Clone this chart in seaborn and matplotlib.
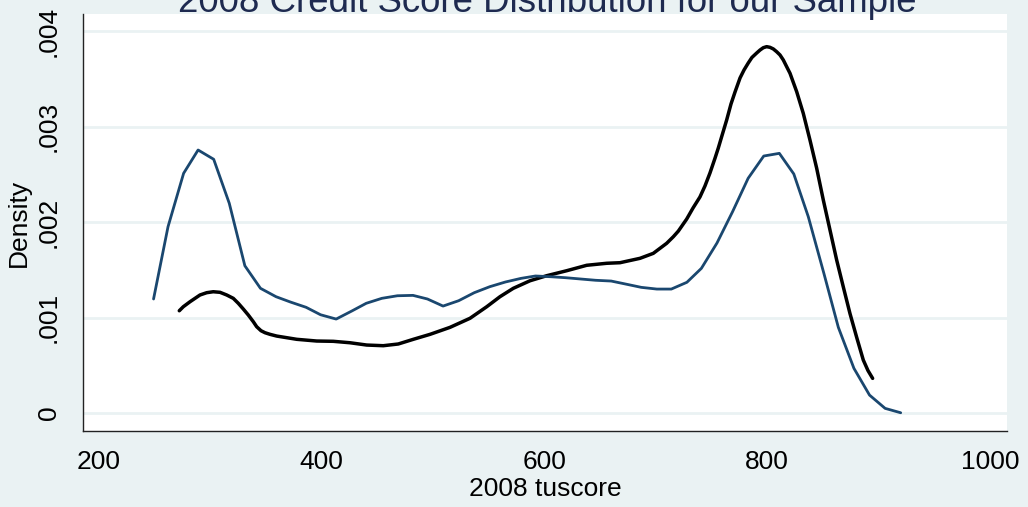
import matplotlib
matplotlib.use("Agg")
import matplotlib.pyplot as plt
import seaborn as sns
import pandas as pd

# Sample: density traced on a coarse 50-point grid
sample_score = [249, 262, 276, 289, 303, 317, 331, 345, 359, 372,
                386, 399, 413, 427, 440, 454, 468, 482, 495, 509,
                523, 537, 551, 565, 579, 592, 606, 619, 633, 646,
                660, 674, 687, 701, 714, 728, 741, 755, 769, 783,
                797, 811, 824, 837, 851, 864, 878, 892, 906, 920]
sample_density = [0.001194, 0.001951, 0.002510, 0.002754, 0.002657, 0.002196, 0.001542, 0.001306, 0.001218, 0.001162,
                  0.001107, 0.001029, 0.000984, 0.001068, 0.001149, 0.001201, 0.001228, 0.001232, 0.001194, 0.001120,
                  0.001176, 0.001260, 0.001323, 0.001372, 0.001410, 0.001435, 0.001427, 0.001417, 0.001403, 0.001390,
                  0.001382, 0.001348, 0.001316, 0.001298, 0.001298, 0.001369, 0.001515, 0.001780, 0.002108, 0.002458,
                  0.002691, 0.002719, 0.002503, 0.002056, 0.001463, 0.000897, 0.000468, 0.000188, 0.000049, 0.000003]

# Reference population: smooth kernel density
pop_score = [272.1, 275.7, 281.7, 290.7, 296.7, 302.6, 308.7, 314.7, 320.6, 325.1,
             329.6, 334.1, 338.6, 341.6, 345.5, 349.1, 353.6, 359.6, 368.6, 377.6,
             395.5, 410.4, 425.4, 440.4, 455.3, 468.8, 482.3, 497.3, 515.2, 533.2,
             548.2, 560.1, 572.1, 587.1, 602.1, 620.0, 638.0, 656.0, 667.9, 685.9,
             697.8, 709.8, 715.8, 720.3, 727.8, 733.5, 739.7, 744.2, 748.7, 753.2,
             756.2, 759.2, 763.7, 767.6, 771.2, 775.7, 779.3, 783.1, 786.4, 790.7,
             793.7, 796.6, 799.6, 802.6, 805.6, 808.6, 811.6, 814.6, 817.6, 820.6,
             826.6, 832.5, 838.5, 844.5, 850.5, 856.5, 862.5, 868.4, 874.4, 880.5,
             886.4, 890.6, 894.8]
pop_density = [0.001071, 0.001113, 0.001165, 0.001236, 0.001260, 0.001270, 0.001264, 0.001236, 0.001201, 0.001149,
               0.001089, 0.001026, 0.000956, 0.000904, 0.000862, 0.000841, 0.000824, 0.000806, 0.000789, 0.000772,
               0.000754, 0.000751, 0.000736, 0.000712, 0.000705, 0.000723, 0.000772, 0.000824, 0.000897, 0.000992,
               0.001113, 0.001218, 0.001306, 0.001385, 0.001438, 0.001490, 0.001547, 0.001568, 0.001574, 0.001620,
               0.001672, 0.001777, 0.001846, 0.001905, 0.002031, 0.002147, 0.002262, 0.002377, 0.002513, 0.002667,
               0.002775, 0.002893, 0.003068, 0.003236, 0.003361, 0.003508, 0.003592, 0.003665, 0.003723, 0.003770,
               0.003801, 0.003825, 0.003836, 0.003829, 0.003812, 0.003783, 0.003749, 0.003696, 0.003626, 0.003557,
               0.003364, 0.003138, 0.002859, 0.002565, 0.002230, 0.001916, 0.001602, 0.001323, 0.001044, 0.000791,
               0.000555, 0.000445, 0.000363]

x_ticks = [200, 400, 600, 800, 1000]
y_ticks = [0, 0.001, 0.002, 0.003, 0.004]
y_tick_labels = ["0", ".001", ".002", ".003", ".004"]

BG = "#eaf2f3"
NAVY = "#1a476f"

sns.set_theme(style="white")
plt.rcParams["font.family"] = ["Liberation Sans", "DejaVu Sans"]

fig = plt.figure(figsize=(10.28, 5.07), dpi=100, facecolor=BG)
ax = fig.add_axes([0.0807, 0.1499, 0.8988, 0.8225])
ax.set_facecolor("white")

sample_df = pd.DataFrame({"score": sample_score, "density": sample_density})
pop_df = pd.DataFrame({"score": pop_score, "density": pop_density})

sns.lineplot(data=pop_df, x="score", y="density", color="black", linewidth=2.5,
             estimator=None, ax=ax, zorder=3, solid_joinstyle="round", solid_capstyle="round")
sns.lineplot(data=sample_df, x="score", y="density", color=NAVY, linewidth=2.0,
             estimator=None, ax=ax, zorder=4, solid_joinstyle="round")

ax.set_xlim(185.6, 1015.4)
ax.set_ylim(-0.000188, 0.004178)

ax.set_yticks(y_ticks)
ax.set_yticklabels(y_tick_labels, rotation=90, va="center")
ax.set_xticks(x_ticks)
ax.set_xticklabels([str(v) for v in x_ticks])

ax.grid(axis="y", color=BG, linewidth=2.0, zorder=0)
ax.grid(axis="x", visible=False)

for side in ("top", "right"):
    ax.spines[side].set_visible(False)
for side in ("left", "bottom"):
    ax.spines[side].set_color("#222222")
    ax.spines[side].set_linewidth(1.0)

ax.tick_params(axis="both", which="major", direction="out", length=8, width=1.0,
               color="#222222", labelsize=19, labelcolor="black")
ax.tick_params(axis="x", pad=6)
ax.tick_params(axis="y", pad=8)

ax.set_xlabel("2008 tuscore", fontsize=19, labelpad=2, color="black")
ax.set_ylabel("Density", fontsize=19, labelpad=4, color="black")

fig.text(0.5326, 1 - 12 / 507, "2008 Credit Score Distribution for our Sample",
         ha="center", va="baseline", fontsize=26.4, color="#1e2a50")

fig.savefig("out.png", dpi=100, facecolor=BG)
